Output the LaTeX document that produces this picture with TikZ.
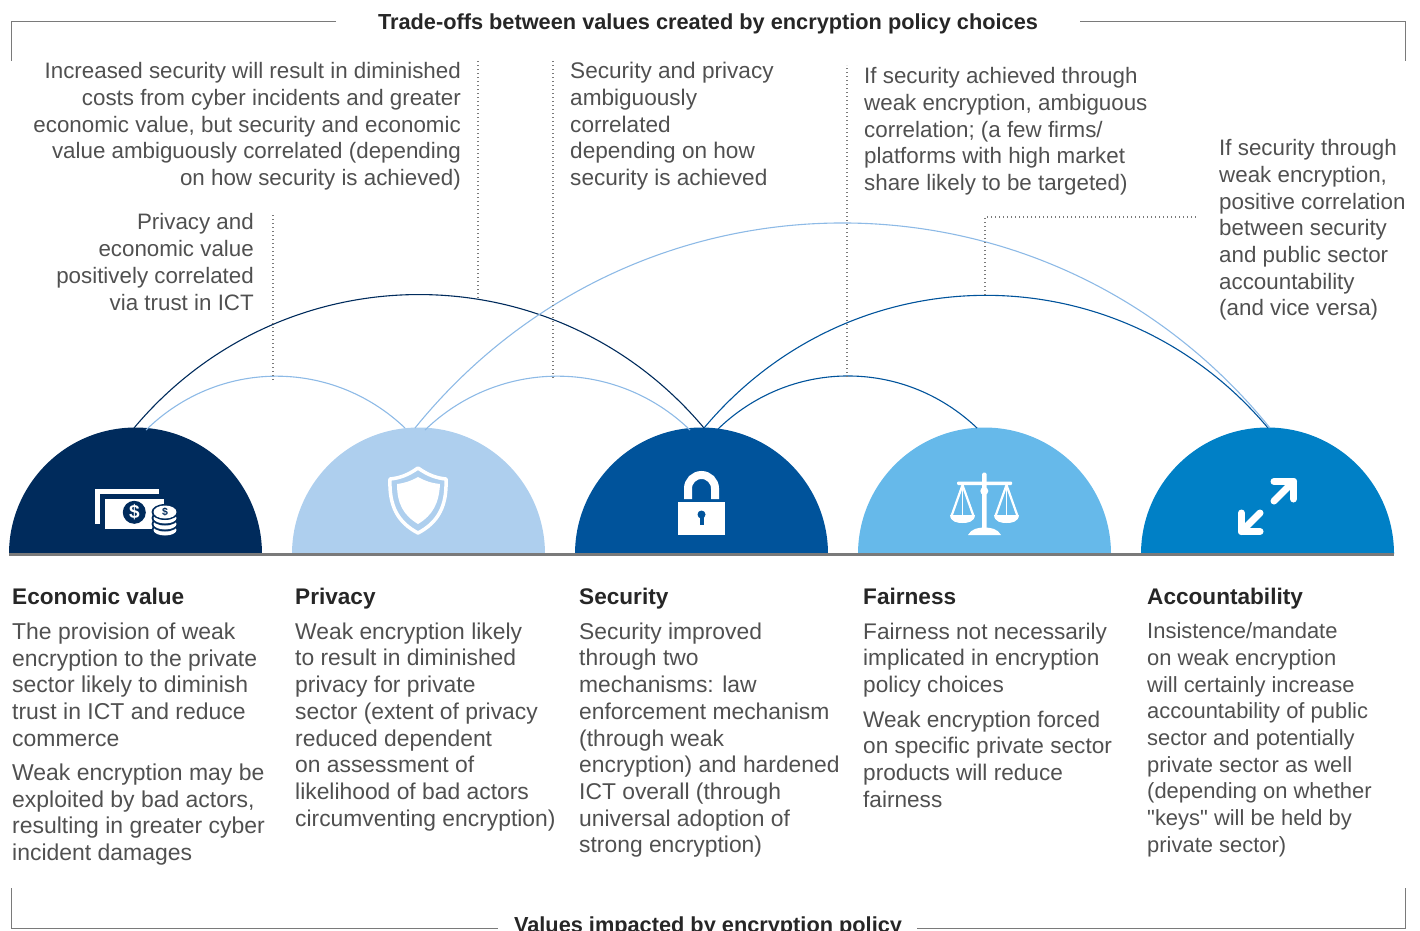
\documentclass[tikz,border=0pt]{standalone}
\usepackage{fontspec}
\setmainfont{Liberation Sans}
\newfontfamily\plainquote{Liberation Sans}
\usetikzlibrary{calc}
\definecolor{econcol}{HTML}{002B5C}
\definecolor{privcol}{HTML}{AECFEE}
\definecolor{privarc}{HTML}{8DBAE6}
\definecolor{seccol}{HTML}{00539B}
\definecolor{faircol}{HTML}{66B9EA}
\definecolor{acctcol}{HTML}{0080C6}
\definecolor{bodycol}{HTML}{505050}
\definecolor{rulecol}{HTML}{7A7A7A}
\tikzset{
  bodytext/.style={inner sep=0pt,text=bodycol},
  lefttext/.style={bodytext,anchor=north west,align=left,font=\fontsize{#1}{26.7}\selectfont},
  lefttext/.default=22.6,
  notetext/.style={lefttext=22.35},
  rightnote/.style={bodytext,anchor=north east,align=right,font=\fontsize{22.35}{26.7}\selectfont},
  headtext/.style={inner sep=0pt,anchor=north west,text=black!85,font=\fontsize{22.6}{26.7}\selectfont\bfseries},
  titletext/.style={inner sep=0pt,text=black!85,font=\fontsize{21.75}{26}\selectfont\bfseries},
  frameline/.style={draw=rulecol,line width=1pt},
  dotline/.style={draw=rulecol,line width=1.3pt,dash pattern=on 1.3pt off 2.7pt},
  bigarc/.style={line width=1.1pt,bend left=50,looseness=1.05},
  smallarc/.style={line width=1.1pt,bend left=44}
}
\begin{document}
\begin{tikzpicture}[x=1pt,y=1pt]
  \useasboundingbox (0,0) rectangle (1420,-930);
  % domes
  \foreach \cx/\col in {135.5/econcol,418.5/privcol,701.5/seccol,984.5/faircol,1267.5/acctcol} {
    \fill[\col] (\cx-126.5,-554) arc (180:0:126.5) -- cycle;
  }
  \draw[rulecol,line width=2.5pt] (9,-554.5) -- (1394,-554.5);

  % arc ends
  \coordinate (econa) at (134,-428);
  \coordinate (econb) at (146,-430);
  \coordinate (priva) at (405,-428);
  \coordinate (privb) at (415,-428);
  \coordinate (privc) at (425,-430);
  \coordinate (seca) at (690,-430);
  \coordinate (secb) at (704,-428);
  \coordinate (secc) at (717,-430);
  \coordinate (faira) at (977,-428);
  \coordinate (accta) at (1268,-428);
  \coordinate (acctb) at (1270,-428);
  \draw[bigarc,draw=econcol,looseness=1.045] (econa) to (secb);
  \draw[smallarc,draw=privarc] (econb) to (priva);
  \draw[smallarc,draw=privarc] (privc) to (seca);
  \draw[bigarc,draw=privarc,bend left=51,looseness=1.055] (privb) to (acctb);
  \draw[bigarc,draw=seccol] (secb) to (accta);
  \draw[smallarc,draw=seccol] (secc) to (faira);

  % dotted leaders
  \coordinate (leadone) at (273,-380);
  \coordinate (leadonetop) at (273,-215);
  \coordinate (leadtwo) at (478,-298);
  \coordinate (leadtwotop) at (478,-60);
  \coordinate (leadthree) at (553,-378);
  \coordinate (leadthreetop) at (553,-60);
  \coordinate (leadfour) at (847,-377);
  \coordinate (leadfourtop) at (847,-65);
  \coordinate (leadfive) at (985,-295);
  \coordinate (leadfivecorner) at (985,-217);
  \coordinate (leadfiveend) at (1198,-217);
  \path[dotline] (leadone) -- (leadonetop);
  \path[dotline] (leadtwo) -- (leadtwotop);
  \path[dotline] (leadthree) -- (leadthreetop);
  \path[dotline] (leadfour) -- (leadfourtop);
  \path[dotline] (leadfive) -- (leadfivecorner) -- (leadfiveend);

  % brackets and titles
  \node[titletext] (toptitle) at (708,-24) {Trade-offs between values created by encryption policy choices};
  \node[titletext] (bottomtitle) at (708,-927) {Values impacted by encryption policy};
  \path[frameline] (336,-21) -- (11,-21) -- (11,-61);
  \path[frameline] (1080,-21) -- (1405,-21) -- (1405,-61);
  \path[frameline] (11,-888) -- (11,-928) -- (498,-928);
  \path[frameline] (917,-928) -- (1405,-928) -- (1405,-888);

  % upper notes
  \node[rightnote] (noteone) at (461,-62.3) {Increased security will result in diminished\\costs from cyber incidents and greater\\economic value, but security and economic\\value ambiguously correlated (depending\\on how security is achieved)};
  \node[rightnote] (notetwo) at (254,-213.5) {Privacy and\\economic value\\positively correlated\\via trust in ICT};
  \node[lefttext=22.6] (notethree) at (570,-62.3) {Security and privacy\\ambiguously\\correlated\\depending on how\\security is achieved};
  \node[notetext] (notefour) at (864,-67.3) {If security achieved through\\weak encryption, ambiguous\\correlation; (a few firms/\\platforms with high market\\share likely to be targeted)};
  \node[notetext] (notefive) at (1219,-139.3) {If security through\\weak encryption,\\positive correlation\\between security\\and public sector\\accountability\\(and vice versa)};

  % columns
  \node[headtext] (econhead) at (12,-588) {Economic value};
  \node[headtext] (privhead) at (295,-588) {Privacy};
  \node[headtext] (sechead) at (579,-588) {Security};
  \node[headtext] (fairhead) at (863,-588) {Fairness};
  \node[headtext] (accthead) at (1147,-588) {Accountability};
  \node[lefttext=22.95] (econtext) at (12,-622.5) {The provision of weak\\encryption to the private\\sector likely to diminish\\trust in ICT and reduce\\commerce\\[7.5pt]Weak encryption may be\\exploited by bad actors,\\resulting in greater cyber\\incident damages};
  \node[lefttext=22.85] (privtext) at (295,-622.5) {Weak encryption likely\\to result in diminished\\privacy for private\\sector (extent of privacy\\reduced dependent\\on assessment of\\likelihood of bad actors\\circumventing encryption)};
  \node[lefttext=22.85] (sectext) at (579,-622.5) {Security improved\\through two\\mechanisms: law\\enforcement mechanism\\(through weak\\encryption) and hardened\\ICT overall (through\\universal adoption of\\strong encryption)};
  \node[lefttext] (fairtext) at (863,-622.5) {Fairness not necessarily\\implicated in encryption\\policy choices\\[8pt]Weak encryption forced\\on specific private sector\\products will reduce\\fairness};
  \node[lefttext=21.95] (accttext) at (1147,-622.5) {Insistence/mandate\\on weak encryption\\will certainly increase\\accountability of public\\sector and potentially\\private sector as well\\(depending on whether\\{\plainquote"keys"} will be held by\\private sector)};

  % money icon
  \fill[white] (95,-489) rectangle (159,-493.5);
  \fill[white] (95,-489) rectangle (100,-524);
  \fill[white] (105,-499) rectangle (164,-529);
  \fill[econcol] (134.3,-512.3) circle (11.5);
  \node[inner sep=0pt,text=white,font=\fontsize{19}{19}\selectfont\bfseries] (billsign) at (134.3,-512.3) {\$};
  \foreach \yy in {530,524,518} {
    \fill[econcol] (165,-\yy) ellipse (13.5 and 7.5);
    \fill[white] (165,-\yy) ellipse (11.5 and 5.5);
  }
  \fill[econcol] (165,-512) ellipse (13.5 and 8);
  \fill[white] (165,-512) ellipse (11.5 and 6.5);
  \node[inner sep=0pt,text=econcol,font=\fontsize{10.5}{10.5}\selectfont\bfseries] (coinsign) at (165,-512) {\$};

  % shield icon
  \draw[white,line width=3.5pt,line join=round] (418,-468) .. controls (408,-475) and (400,-478) .. (390,-479)
    .. controls (389,-505) and (397,-522) .. (418,-533)
    .. controls (439,-522) and (447,-505) .. (446,-479)
    .. controls (436,-478) and (428,-475) .. (418,-468) -- cycle;
  \fill[white] (418,-477) .. controls (411,-481) and (405,-483) .. (397,-484)
    .. controls (397,-503) and (403,-515) .. (418,-524)
    .. controls (433,-515) and (439,-503) .. (440,-484)
    .. controls (431,-483) and (425,-481) .. (418,-477) -- cycle;

  % lock icon
  \fill[white] (678,-502) rectangle (725,-535);
  \draw[white,line width=8pt] (688,-499) -- (688,-488.5) arc (180:0:13.5) -- (715,-499);
  \fill[seccol] (701.5,-514.5) circle (4);
  \fill[seccol] (699.5,-515) rectangle (703.5,-525);

  % scales icon
  \fill[white,rounded corners=1.5pt] (982,-472.5) rectangle (986.5,-532);
  \fill[white,rounded corners=1pt] (957,-481.5) rectangle (1012,-485);
  \fill[white] (984.3,-491) circle (4);
  \fill[white] (968,-535) .. controls (971,-529) and (978,-527.5) .. (984.5,-527.5)
    .. controls (991,-527.5) and (998,-529) .. (1001,-535) -- cycle;
  \foreach \px in {962.5,1006.5} {
    \draw[white,line width=2.2pt,line join=round] (\px-11,-516) -- (\px,-485) -- (\px+11,-516);
    \draw[white,line width=1.5pt] (\px,-485) -- (\px,-516);
    \fill[white] (\px-12.5,-515) -- (\px+12.5,-515) .. controls (\px+12,-522) and (\px+5,-523) .. (\px,-523)
      .. controls (\px-5,-523) and (\px-12,-522) .. (\px-12.5,-515) -- cycle;
  }

  % arrows icon
  \draw[white,line width=7pt,line cap=round,line join=round] (1274,-481.5) -- (1293.5,-481.5) -- (1293.5,-499);
  \draw[white,line width=7pt,line cap=round] (1293.5,-481.5) -- (1274,-501);
  \draw[white,line width=7pt,line cap=round,line join=round] (1241.5,-513) -- (1241.5,-531.5) -- (1260,-531.5);
  \draw[white,line width=7pt,line cap=round] (1241.5,-531.5) -- (1260,-513);
\end{tikzpicture}
\end{document}
